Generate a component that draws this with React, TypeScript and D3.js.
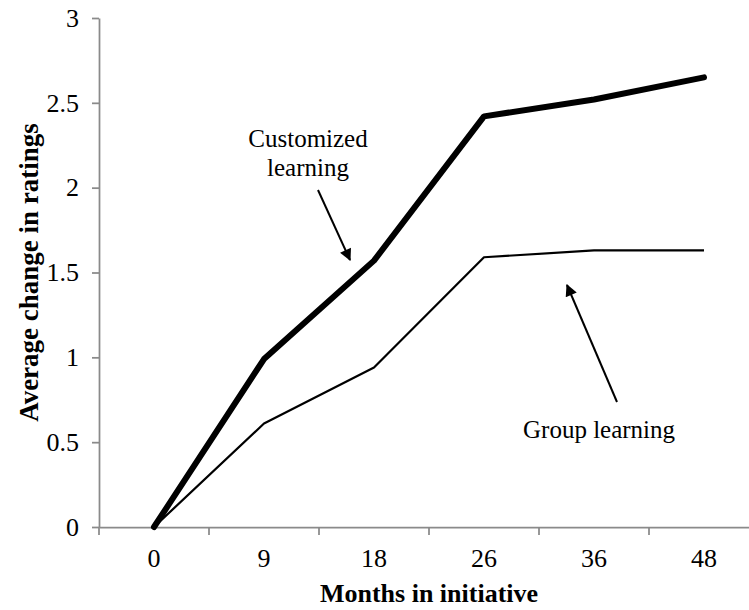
import React, { useEffect, useRef } from "react";
import * as d3 from "d3";

const months = ["0", "9", "18", "26", "36", "48"];
const customized = [0, 0.99, 1.57, 2.42, 2.52, 2.65];
const group = [0, 0.61, 0.94, 1.59, 1.63, 1.63];
const yTicks = [0, 0.5, 1, 1.5, 2, 2.5, 3];

export default function App() {
  const ref = useRef<SVGSVGElement>(null);

  useEffect(() => {
    // plot area (the last band runs off the right edge, as in the source image)
    const left = 99;
    const right = 759;
    const top = 18;
    const bottom = 527;
    const font = "'Liberation Serif', 'Times New Roman', serif";
    const axisGrey = "#8a8a8a";

    const svg = d3.select(ref.current);
    svg.selectAll("*").remove();

    const x = d3.scaleBand().domain(months).range([left, right]);
    const y = d3.scaleLinear().domain([0, 3]).range([bottom, top]);
    const cx = (m: string) => (x(m) as number) + x.bandwidth() / 2;

    svg
      .append("defs")
      .append("marker")
      .attr("id", "arrowhead")
      .attr("viewBox", "0 0 10 10")
      .attr("refX", 9)
      .attr("refY", 5)
      .attr("markerWidth", 6.5)
      .attr("markerHeight", 6)
      .attr("markerUnits", "strokeWidth")
      .attr("orient", "auto")
      .append("path")
      .attr("d", "M0,0 L10,5 L0,10 Z")
      .attr("fill", "#000");

    // y axis
    const yAxis = svg
      .append("g")
      .attr("transform", `translate(${left},0)`)
      .call(d3.axisLeft(y).tickValues(yTicks).tickSize(7).tickSizeOuter(0).tickFormat(d3.format("")));
    yAxis.select(".domain").attr("stroke", axisGrey).attr("stroke-width", 1.75);
    yAxis.selectAll(".tick line").attr("stroke", axisGrey).attr("stroke-width", 1.75);
    yAxis
      .selectAll("text")
      .attr("font-family", font)
      .attr("font-size", 26)
      .attr("fill", "#000")
      .attr("x", -20);

    // x axis, labels centred in bands, marks on the band edges
    const xAxis = svg
      .append("g")
      .attr("transform", `translate(0,${bottom})`)
      .call(d3.axisBottom(x).tickSize(0).tickSizeOuter(0));
    xAxis.select(".domain").attr("stroke", axisGrey).attr("stroke-width", 1.75);
    xAxis
      .selectAll("text")
      .attr("font-family", font)
      .attr("font-size", 26)
      .attr("fill", "#000")
      .attr("dy", "0")
      .attr("y", 40);
    const edges = [left, ...months.map((m) => (x(m) as number) + x.bandwidth())];
    xAxis
      .selectAll("line.edge")
      .data(edges)
      .enter()
      .append("line")
      .attr("class", "edge")
      .attr("x1", (d) => d)
      .attr("x2", (d) => d)
      .attr("y1", 0)
      .attr("y2", 8)
      .attr("stroke", axisGrey)
      .attr("stroke-width", 1.75);

    const line = d3
      .line<number>()
      .x((_, i) => cx(months[i]))
      .y((d) => y(d));

    svg
      .append("path")
      .datum(group)
      .attr("d", line)
      .attr("fill", "none")
      .attr("stroke", "#000")
      .attr("stroke-width", 2.2)
      .attr("stroke-linejoin", "round");

    svg
      .append("path")
      .datum(customized)
      .attr("d", line)
      .attr("fill", "none")
      .attr("stroke", "#000")
      .attr("stroke-width", 6)
      .attr("stroke-linejoin", "round")
      .attr("stroke-linecap", "round");

    // annotations
    const ann = svg.append("g").attr("font-family", font).attr("font-size", 25).attr("fill", "#000");
    ann.append("text").attr("x", 308).attr("y", 147).attr("text-anchor", "middle").text("Customized");
    ann.append("text").attr("x", 308).attr("y", 176).attr("text-anchor", "middle").text("learning");
    ann.append("text").attr("x", 523).attr("y", 438).text("Group learning");

    svg
      .append("line")
      .attr("x1", 318)
      .attr("y1", 190)
      .attr("x2", 350)
      .attr("y2", 260)
      .attr("stroke", "#000")
      .attr("stroke-width", 2)
      .attr("marker-end", "url(#arrowhead)");
    svg
      .append("line")
      .attr("x1", 617)
      .attr("y1", 402)
      .attr("x2", 567)
      .attr("y2", 285)
      .attr("stroke", "#000")
      .attr("stroke-width", 2)
      .attr("marker-end", "url(#arrowhead)");

    // axis titles
    svg
      .append("text")
      .attr("x", (left + right) / 2)
      .attr("y", 602)
      .attr("text-anchor", "middle")
      .attr("font-family", font)
      .attr("font-size", 26)
      .attr("font-weight", "bold")
      .text("Months in initiative");
    svg
      .append("text")
      .attr("transform", `translate(38,${(top + bottom) / 2}) rotate(-90)`)
      .attr("text-anchor", "middle")
      .attr("font-family", font)
      .attr("font-size", 27)
      .attr("font-weight", "bold")
      .text("Average change in ratings");
  }, []);

  return (
    <svg
      ref={ref}
      width={749}
      height={610}
      style={{ position: "absolute", left: 0, top: 0, background: "#fff" }}
    />
  );
}
